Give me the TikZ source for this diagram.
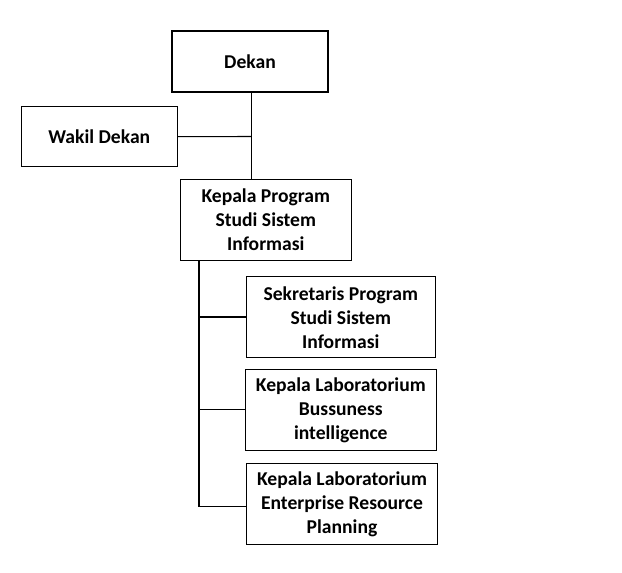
\documentclass[tikz,border=0pt]{standalone}
\usepackage{fontspec}
\setmainfont{Carlito}
\begin{document}
\begin{tikzpicture}[x=0.75pt,y=-0.75pt,
  box/.style={draw,line width=0.8pt,inner sep=0pt,align=center,
    font=\fontsize{14.7}{18}\selectfont\bfseries},
  conn/.style={line width=0.8pt}]
\useasboundingbox (0,0) rectangle (622,573);
\fill[white] (0,0) rectangle (622,573);
\node[box,minimum width=156*0.75pt,minimum height=61*0.75pt] (dekan) at (250,61.5) {Dekan};
\node[box,minimum width=155.5*0.75pt,minimum height=60*0.75pt] (wakil) at (99.3,136.7) {Wakil Dekan};
\node[box,minimum width=170.5*0.75pt,minimum height=81.5*0.75pt] (kaprodi) at (265.8,220) {Kepala Program\\Studi Sistem\\Informasi};
\node[box,minimum width=188.5*0.75pt,minimum height=81*0.75pt] (sek) at (340.8,317.2) {Sekretaris Program\\Studi Sistem\\Informasi};
\node[box,minimum width=191.5*0.75pt,minimum height=81.5*0.75pt] (bi) at (340.8,410) {Kepala Laboratorium\\Bussuness\\intelligence};
\node[box,minimum width=190.5*0.75pt,minimum height=81.5*0.75pt] (erp) at (342,504.2) {Kepala Laboratorium\\Enterprise Resource\\Planning};
\coordinate (j1) at (251.3,136.5);
\coordinate (t) at (199,317);
\coordinate (b) at (199,409.5);
\coordinate (e) at (199,506.7);
\draw[conn] (dekan.south -| j1) -- (kaprodi.north -| j1);
\draw[conn] (wakil.east) -- (j1);
\draw[conn] (kaprodi.south -| e) -- (e) -- (erp.west |- e);
\draw[conn] (t) -- (sek.west |- t);
\draw[conn] (b) -- (bi.west |- b);
\end{tikzpicture}
\end{document}
